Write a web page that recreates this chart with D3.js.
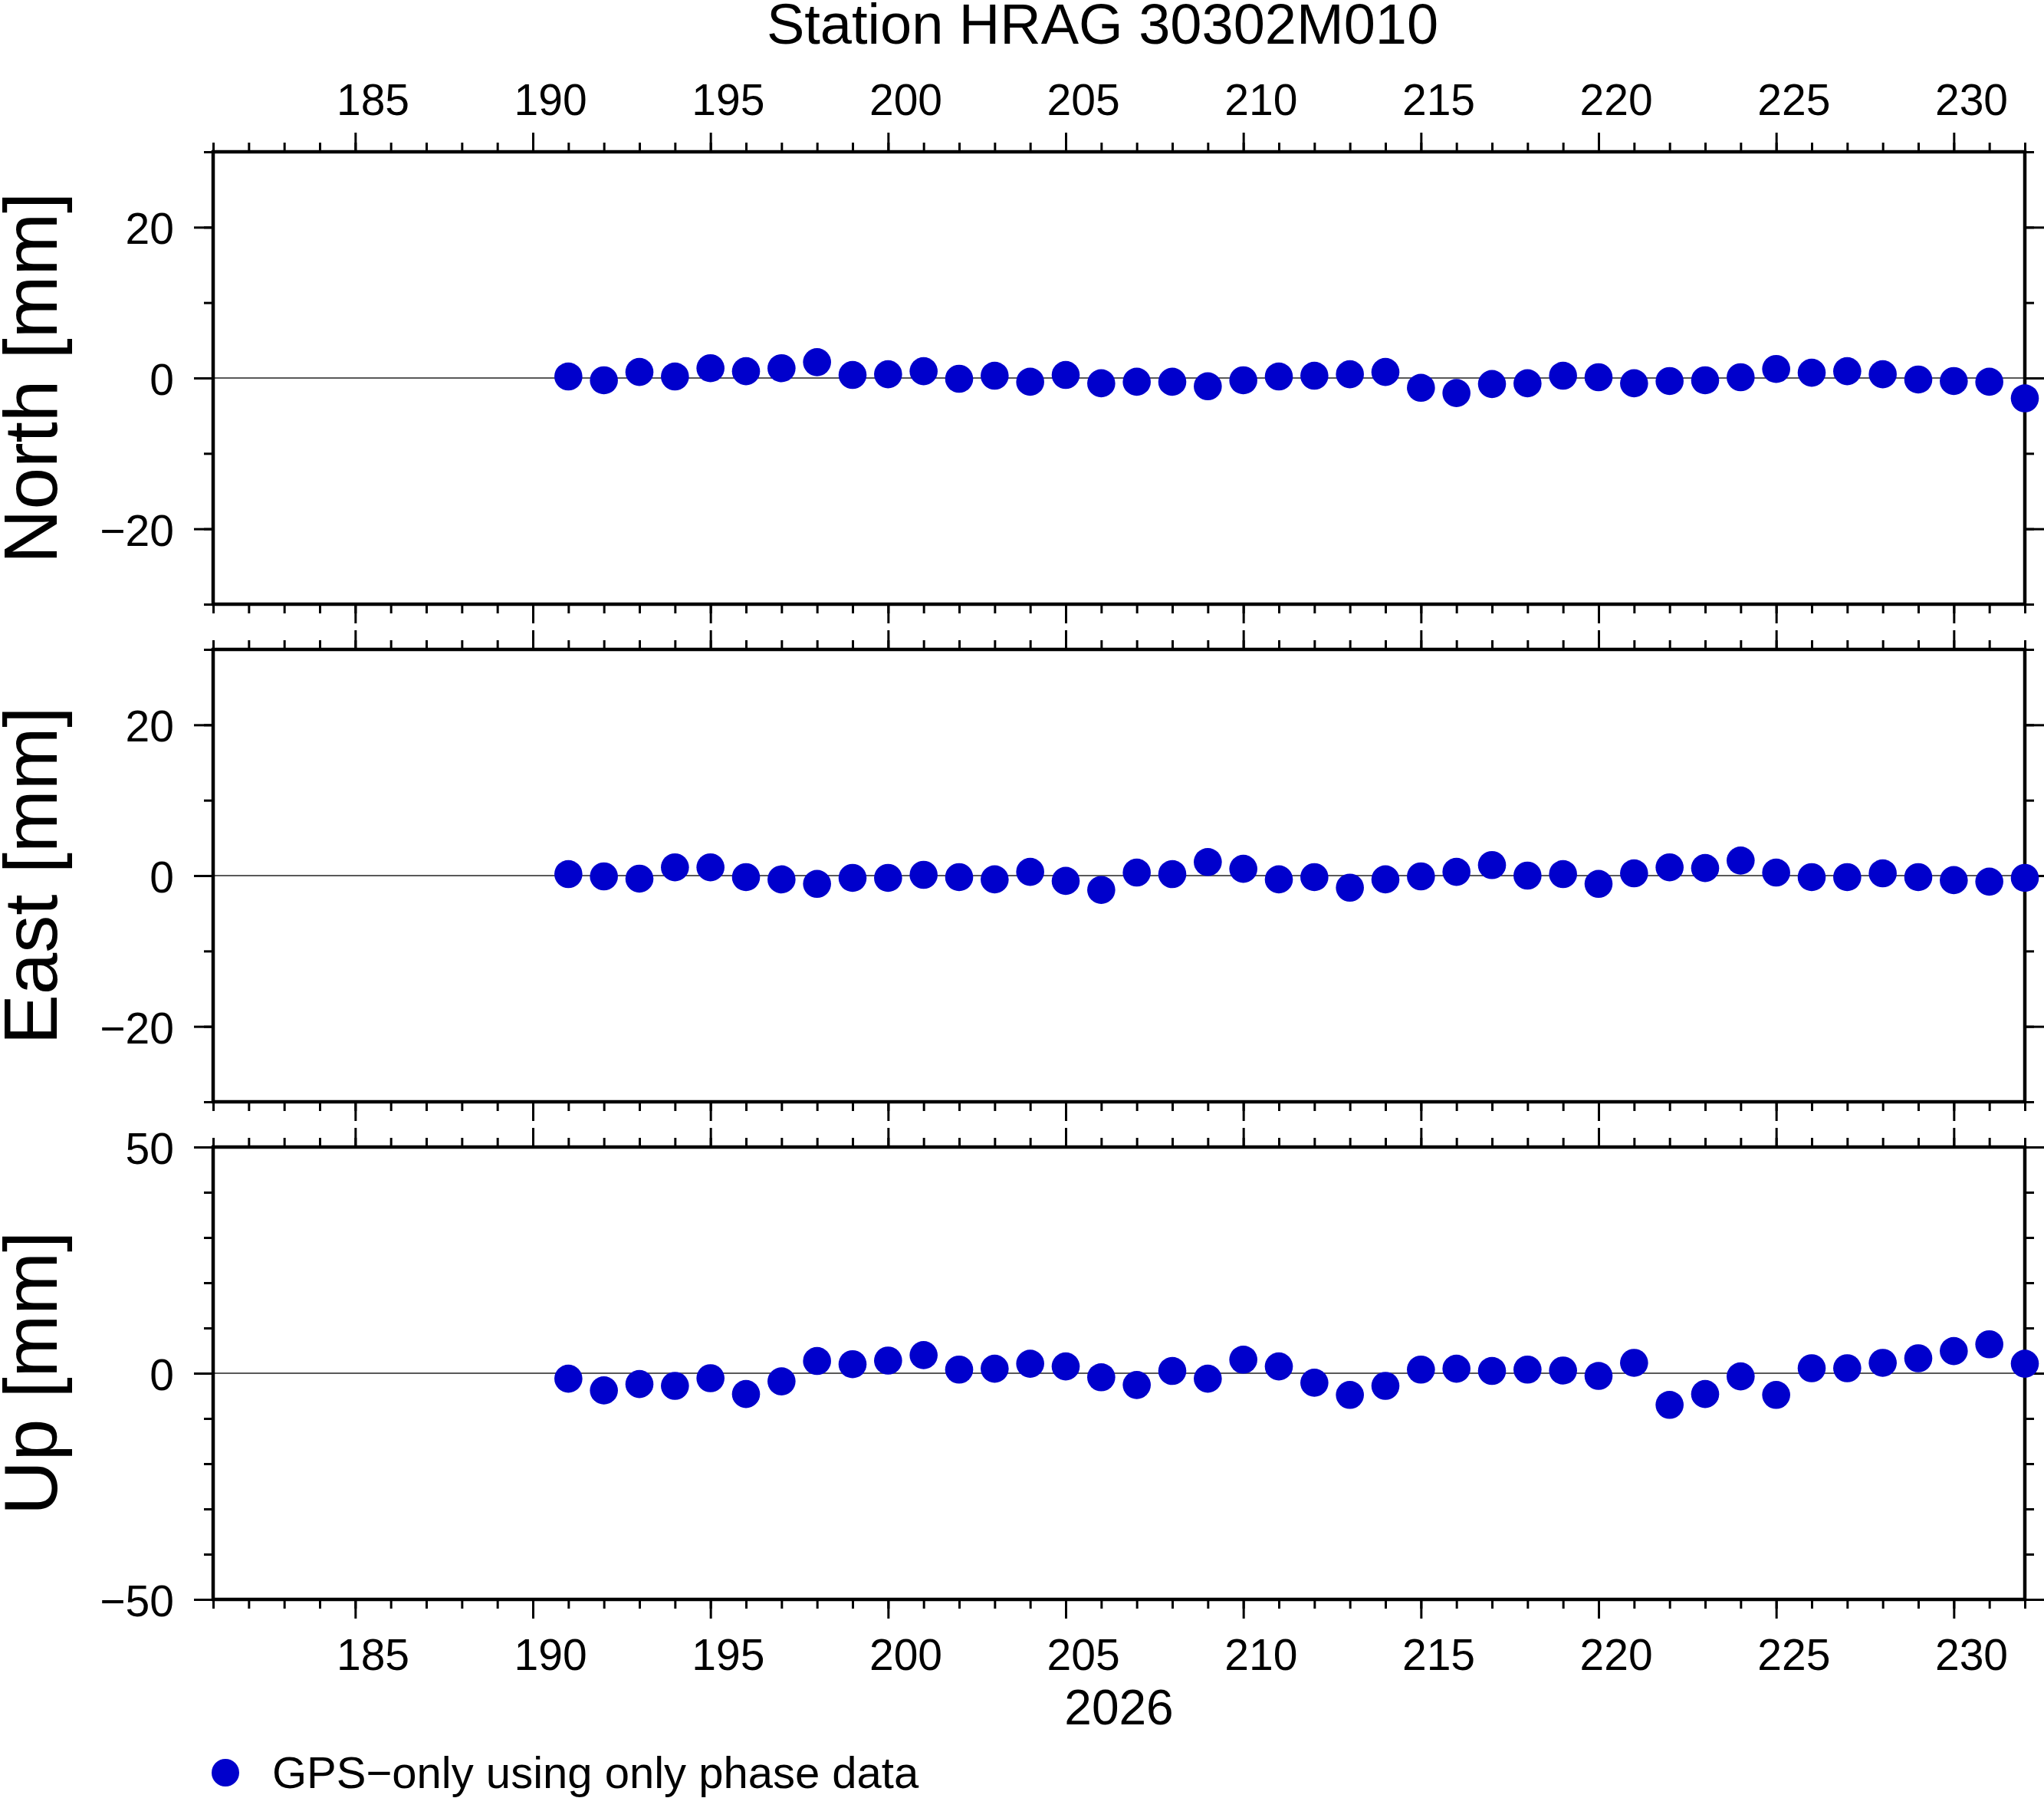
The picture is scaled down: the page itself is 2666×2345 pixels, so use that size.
<!DOCTYPE html>
<html>
<head>
<meta charset="utf-8">
<script src="https://cdn.jsdelivr.net/npm/d3@7"></script>
<style>
  html, body { margin: 0; padding: 0; background: #fff; }
  svg { display: block; }
  text { font-family: "Liberation Sans", Arial, Helvetica, sans-serif; fill: #000; }
</style>
</head>
<body>
<script>
// ---------------- data ----------------
const titleText = "Station HRAG 30302M010";
const xAxisTitle = "2026";
const legendText = "GPS\u2212only using only phase data";

const days = [191,192,193,194,195,196,197,198,199,200,201,202,203,204,205,206,207,208,209,210,
              211,212,213,214,215,216,217,218,219,220,221,222,223,224,225,226,227,228,229,230,231,232];

const northValues = [0.2,-0.3,0.8,0.2,1.3,0.9,1.3,2.1,0.4,0.5,0.9,-0.1,0.3,-0.5,0.4,-0.7,-0.5,-0.5,-1.1,-0.3,
                     0.2,0.3,0.5,0.8,-1.3,-2.0,-0.8,-0.7,0.3,0.1,-0.7,-0.4,-0.3,0.1,1.2,0.7,0.9,0.5,-0.2,-0.4,-0.5,-2.7];

const eastValues  = [0.2,-0.1,-0.4,1.1,1.1,-0.2,-0.5,-1.1,-0.3,-0.3,0.1,-0.2,-0.5,0.5,-0.7,-1.9,0.4,0.2,1.8,0.9,
                     -0.5,-0.2,-1.6,-0.5,-0.1,0.5,1.4,0.0,0.2,-1.1,0.3,1.1,1.0,2.0,0.4,-0.2,-0.2,0.3,-0.2,-0.6,-0.8,-0.3];

const upValues    = [-1.2,-3.8,-2.4,-2.8,-1.1,-4.6,-1.8,2.7,2.0,2.8,4.0,0.8,1.0,2.1,1.5,-0.9,-2.6,0.5,-1.2,3.0,
                     1.5,-2.1,-4.8,-2.8,0.8,1.0,0.5,0.8,0.6,-0.6,2.3,-7.0,-4.6,-0.7,-4.8,1.1,1.1,2.3,3.3,4.9,6.4,2.1];

const xDomain = [181, 232];
const xMajorTicks = [185,190,195,200,205,210,215,220,225,230];
const xMinorTicks = d3.range(181, 233);

const panels = [
  { label: "North [mm]", values: northValues, domain: [-30, 30], major: [-20, 0, 20], minor: [-30,-20,-10,0,10,20,30] },
  { label: "East [mm]",  values: eastValues,  domain: [-30, 30], major: [-20, 0, 20], minor: [-30,-20,-10,0,10,20,30] },
  { label: "Up [mm]",    values: upValues,    domain: [-50, 50], major: [-50, 0, 50], minor: [-50,-40,-30,-20,-10,0,10,20,30,40,50] }
];

// ---------------- layout ----------------
const W = 2666, H = 2345;
const left = 278, right = 2641;
const panelTops = [198, 847, 1496];
const panelH = 590;
const dotColor = "#0000CC";
const tickFont = 57;

const svg = d3.select("body").append("svg").attr("width", W).attr("height", H);

const x = d3.scaleLinear().domain(xDomain).range([left, right]);
const fmt = d3.format("d");

// title
svg.append("text").attr("x", 1438).attr("y", 57).attr("text-anchor", "middle")
  .style("font-size", "74px").text(titleText);

function styleAxis(g, w) {
  g.select(".domain").remove();
  g.selectAll(".tick line").attr("stroke", "#000").attr("stroke-width", w);
  g.selectAll(".tick text").remove();
}

panels.forEach((p, i) => {
  const top = panelTops[i], bottom = top + panelH;
  const y = d3.scaleLinear().domain(p.domain).range([bottom, top]);
  const g = svg.append("g");

  // zero line
  g.append("line").attr("x1", left).attr("x2", right).attr("y1", y(0)).attr("y2", y(0))
    .attr("stroke", "#222").attr("stroke-width", 1.4);

  // x ticks top and bottom
  [[d3.axisTop, top], [d3.axisBottom, bottom]].forEach(([ax, yy]) => {
    g.append("g").attr("transform", `translate(0,${yy})`)
      .call(ax(x).tickValues(xMinorTicks).tickSize(12).tickFormat(""))
      .call(s => styleAxis(s, 3));
    g.append("g").attr("transform", `translate(0,${yy})`)
      .call(ax(x).tickValues(xMajorTicks).tickSize(25).tickFormat(""))
      .call(s => styleAxis(s, 3));
  });
  // y ticks left and right
  [[d3.axisLeft, left], [d3.axisRight, right]].forEach(([ax, xx]) => {
    g.append("g").attr("transform", `translate(${xx},0)`)
      .call(ax(y).tickValues(p.minor).tickSize(12).tickFormat(""))
      .call(s => styleAxis(s, 3));
    g.append("g").attr("transform", `translate(${xx},0)`)
      .call(ax(y).tickValues(p.major).tickSize(25).tickFormat(""))
      .call(s => styleAxis(s, 3));
  });

  // frame
  g.append("rect").attr("x", left).attr("y", top).attr("width", right - left).attr("height", panelH)
    .attr("fill", "none").attr("stroke", "#000").attr("stroke-width", 4.5);

  // y tick labels
  g.selectAll("text.ylab").data(p.major).join("text").attr("class", "ylab")
    .attr("x", 227).attr("y", d => y(d) + 22).attr("text-anchor", "end")
    .style("font-size", tickFont + "px").text(d => fmt(d));

  // y axis label
  g.append("text").attr("transform", `translate(74,${(top + bottom) / 2}) rotate(-90)`)
    .attr("text-anchor", "middle").style("font-size", "98px").text(p.label);

  // x tick labels
  if (i === 0) {
    g.selectAll("text.xlabT").data(xMajorTicks).join("text").attr("class", "xlabT")
      .attr("x", d => x(d + 0.5)).attr("y", 150).attr("text-anchor", "middle")
      .style("font-size", tickFont + "px").text(d => fmt(d));
  }
  if (i === panels.length - 1) {
    g.selectAll("text.xlabB").data(xMajorTicks).join("text").attr("class", "xlabB")
      .attr("x", d => x(d + 0.5)).attr("y", 2178).attr("text-anchor", "middle")
      .style("font-size", tickFont + "px").text(d => fmt(d));
  }

  // dots
  g.selectAll("circle.pt").data(days.map((d, k) => [d, p.values[k]])).join("circle").attr("class", "pt")
    .attr("cx", d => x(d[0])).attr("cy", d => y(d[1])).attr("r", 18.3).attr("fill", dotColor);
});

// x axis title
svg.append("text").attr("x", (left + right) / 2).attr("y", 2249).attr("text-anchor", "middle")
  .style("font-size", "64px").text(xAxisTitle);

// legend
svg.append("circle").attr("cx", 294).attr("cy", 2312).attr("r", 18).attr("fill", dotColor);
svg.append("text").attr("x", 355).attr("y", 2332).style("font-size", "58px").text(legendText);
</script>
</body>
</html>
